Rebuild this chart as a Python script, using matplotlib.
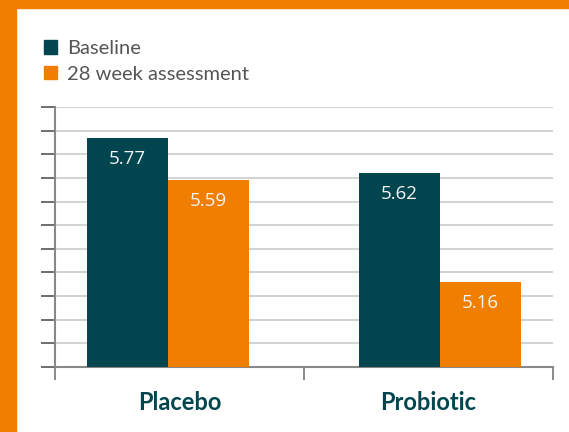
import numpy as np
import matplotlib
matplotlib.use('Agg')
import matplotlib.pyplot as plt
from matplotlib.patches import Rectangle, Patch

# data
groups = ['Placebo', 'Probiotic']
series = ['Baseline', '28 week assessment']
baseline = [5.77, 5.62]
week28 = [5.59, 5.16]

teal = '#01454f'
orange = '#f07e00'

W, H = 569, 432
fig = plt.figure(figsize=(W/100, H/100), dpi=100)
ax = fig.add_axes([55/W, (H-367)/H, (553-55)/W, (367-107)/H])

x = np.arange(len(groups))
centers = 0.5 + (x - 0.5)*1.092
bw = 0.327
b1 = ax.bar(centers - bw/2, baseline, bw, color=teal, zorder=3)
b2 = ax.bar(centers + bw/2, week28, bw, color=orange, zorder=3)

for bars in (b1, b2):
    for r in bars:
        ax.annotate(f'{r.get_height():.2f}', (r.get_x() + r.get_width()/2, r.get_height()),
                    xytext=(0, -21), textcoords='offset pixels', ha='center', va='center',
                    color='#f4f4f4', fontsize=13.5, family='Open Sans', zorder=4)

ax.set_ylim(4.8, 5.9)
ax.set_xlim(-0.5, 1.5)
ax.set_yticks(np.arange(4.8, 5.91, 0.1))
ax.set_yticklabels([])
ax.yaxis.grid(True, color='#cfcfcf', lw=1.3, zorder=0)
ax.set_axisbelow(True)
ax.tick_params(axis='y', length=10, width=1.2, color='#555555', direction='out')

ax.set_xticks(x)
ax.set_xticklabels(groups, fontsize=17, fontweight='bold', color=teal, family='Lato')
ax.set_xticks([-0.5, 0.5, 1.5], minor=True)
ax.tick_params(axis='x', which='major', length=0, pad=17)
ax.tick_params(axis='x', which='minor', length=9, width=1.2, color='#777777', direction='out')

for s in ['top', 'right']:
    ax.spines[s].set_visible(False)
for s in ['left', 'bottom']:
    ax.spines[s].set_color('#888888')
    ax.spines[s].set_linewidth(1.5)

handles = [Patch(color=teal), Patch(color=orange)]
fig.legend(handles, series, loc='upper left', bbox_to_anchor=(36/W, 1 - 32/H),
           frameon=False, handlelength=0.64, handleheight=0.64,
           handletextpad=0.5, labelspacing=0.42, borderaxespad=0,
           prop={'family': 'Lato', 'size': 14.5}, labelcolor='#555555')

# orange frame on top and left
fig.patches.append(Rectangle((0, 1 - 8/H), 1, 8/H, transform=fig.transFigure, color=orange, zorder=10))
fig.patches.append(Rectangle((0, 0), 16/W, 1, transform=fig.transFigure, color=orange, zorder=10))

fig.savefig('out.png', dpi=100)
